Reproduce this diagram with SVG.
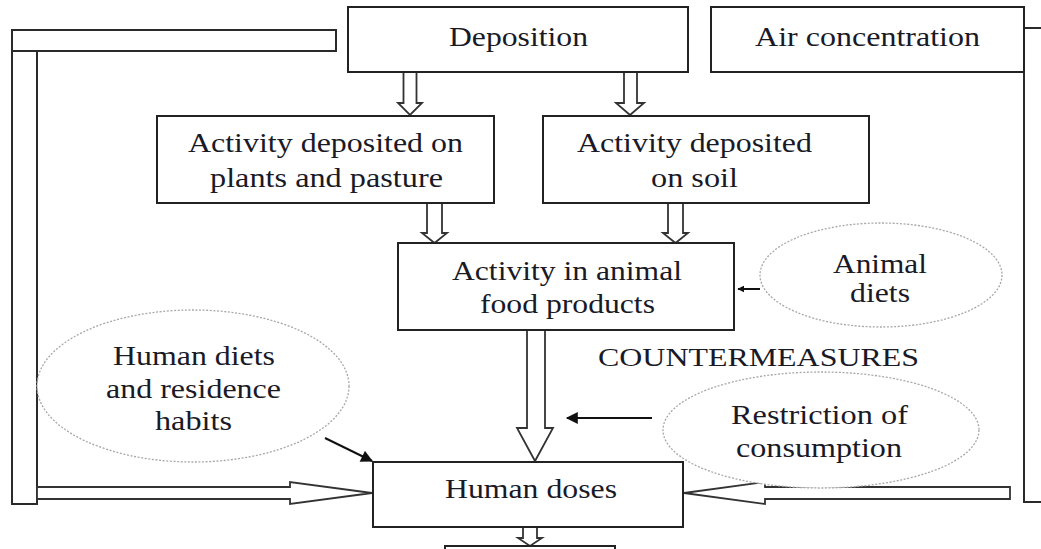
<svg xmlns="http://www.w3.org/2000/svg" width="1041" height="549" viewBox="0 0 1041 549">
  <style>
    .box { fill: #fff; stroke: #222; stroke-width: 2; }
    .frame { fill: #fff; stroke: #2a2a2a; stroke-width: 2; }
    .oval { fill: #fff; stroke: #a8a8a8; stroke-width: 1.3; stroke-dasharray: 2 1.6; }
    .hollow { fill: #fff; stroke: #333; stroke-width: 1.8; stroke-linejoin: miter; }
    .thin { fill: none; stroke: #111; stroke-width: 2; }
    text { font-family: "Liberation Serif", "Times New Roman", serif; font-size: 28px; fill: #1a1a26; }
    .caps { font-size: 25px; }
  </style>
  <defs>
    <marker id="solid" viewBox="0 0 10 10" refX="9" refY="5" markerWidth="7" markerHeight="7" markerUnits="userSpaceOnUse" orient="auto">
      <path d="M0,0 L10,5 L0,10 z" fill="#111"/>
    </marker>
    <marker id="solidLg" viewBox="0 0 10 10" refX="9" refY="5" markerWidth="14" markerHeight="12" markerUnits="userSpaceOnUse" orient="auto">
      <path d="M0,0 L10,5 L0,10 z" fill="#111"/>
    </marker>
  </defs>

  <!-- side frames feeding the dose box -->
  <g id="left-frame">
    <rect class="frame" x="12" y="30" width="324" height="21"/>
    <rect class="frame" x="12" y="51" width="25" height="453"/>
  </g>
  <g id="right-frame">
    <rect class="frame" x="1024" y="28" width="40" height="474"/>
  </g>

  <!-- connectors -->
  <g id="connectors">
    <!-- Deposition to first-level boxes -->
    <polygon class="hollow" points="403.5,72 416.5,72 416.5,103 422,103 410,115 398,103 403.5,103"/>
    <polygon class="hollow" points="624,72 637,72 637,103 644,103 630,115 616,103 624,103"/>
    <!-- first-level boxes to animal food products -->
    <polygon class="hollow" points="427,203 442,203 442,233 447,233 434.5,243 422,233 427,233"/>
    <polygon class="hollow" points="668,203 683,203 683,233 688,233 675.5,243 663,233 668,233"/>
    <!-- animal food products to human doses -->
    <polygon class="hollow" points="527,330 545,330 545,428 553,428 535,461 517,428 527,428"/>
    <!-- human doses onward -->
    <polygon class="hollow" points="523,527 537,527 537,538 542,538 530,546 518,538 523,538"/>
    <!-- side inputs to human doses -->
    <polygon class="hollow" points="37,487 290,487 290,482 372,493 290,504 290,499 37,499"/>
    <polygon class="hollow" points="1010,487 765,487 765,482 684,493 765,504 765,499 1010,499"/>
    <!-- countermeasure influences -->
    <line class="thin" x1="760" y1="289" x2="738" y2="289" marker-end="url(#solid)"/>
    <line class="thin" x1="652" y1="418" x2="567" y2="418" marker-end="url(#solidLg)"/>
    <line class="thin" x1="325" y1="438" x2="372" y2="461" marker-end="url(#solidLg)"/>
  </g>

  <g id="deposition">
    <rect class="box" x="348" y="7" width="340" height="65"/>
    <text x="449" y="46" textLength="139" lengthAdjust="spacingAndGlyphs">Deposition</text>
  </g>
  <g id="air-concentration">
    <rect class="box" x="711" y="7" width="313" height="65"/>
    <text x="755" y="46" textLength="225" lengthAdjust="spacingAndGlyphs">Air concentration</text>
  </g>
  <g id="plants-pasture">
    <rect class="box" x="157" y="116" width="337" height="87"/>
    <text x="188" y="152" textLength="275" lengthAdjust="spacingAndGlyphs">Activity deposited on</text>
    <text x="210" y="187" textLength="233" lengthAdjust="spacingAndGlyphs">plants and pasture</text>
  </g>
  <g id="soil">
    <rect class="box" x="543" y="116" width="326" height="87"/>
    <text x="577" y="152" textLength="235" lengthAdjust="spacingAndGlyphs">Activity deposited</text>
    <text x="651" y="187" textLength="87" lengthAdjust="spacingAndGlyphs">on soil</text>
  </g>
  <g id="animal-food">
    <rect class="box" x="398" y="243" width="336" height="87"/>
    <text x="452" y="280" textLength="230" lengthAdjust="spacingAndGlyphs">Activity in animal</text>
    <text x="480" y="313" textLength="175" lengthAdjust="spacingAndGlyphs">food products</text>
  </g>
  <g id="animal-diets">
    <ellipse class="oval" cx="881" cy="275" rx="121" ry="52"/>
    <text x="833" y="273" textLength="94" lengthAdjust="spacingAndGlyphs">Animal</text>
    <text x="850" y="302" textLength="60" lengthAdjust="spacingAndGlyphs">diets</text>
  </g>
  <g id="countermeasures-label">
    <text class="caps" x="598" y="366" textLength="321" lengthAdjust="spacingAndGlyphs">COUNTERMEASURES</text>
  </g>
  <g id="restriction">
    <ellipse class="oval" cx="821" cy="430" rx="158" ry="58"/>
    <text x="731" y="424" textLength="177" lengthAdjust="spacingAndGlyphs">Restriction of</text>
    <text x="736" y="457" textLength="166" lengthAdjust="spacingAndGlyphs">consumption</text>
  </g>
  <g id="human-diets">
    <ellipse class="oval" cx="193" cy="386" rx="156" ry="76"/>
    <text x="113" y="365" textLength="162" lengthAdjust="spacingAndGlyphs">Human diets</text>
    <text x="106" y="398" textLength="175" lengthAdjust="spacingAndGlyphs">and residence</text>
    <text x="155" y="430" textLength="77" lengthAdjust="spacingAndGlyphs">habits</text>
  </g>
  <g id="human-doses">
    <rect class="box" x="373" y="462" width="310" height="65"/>
    <text x="445" y="498" textLength="172" lengthAdjust="spacingAndGlyphs">Human doses</text>
  </g>
  <g id="next-stage">
    <rect class="box" x="445" y="546" width="170" height="20"/>
  </g>
</svg>
